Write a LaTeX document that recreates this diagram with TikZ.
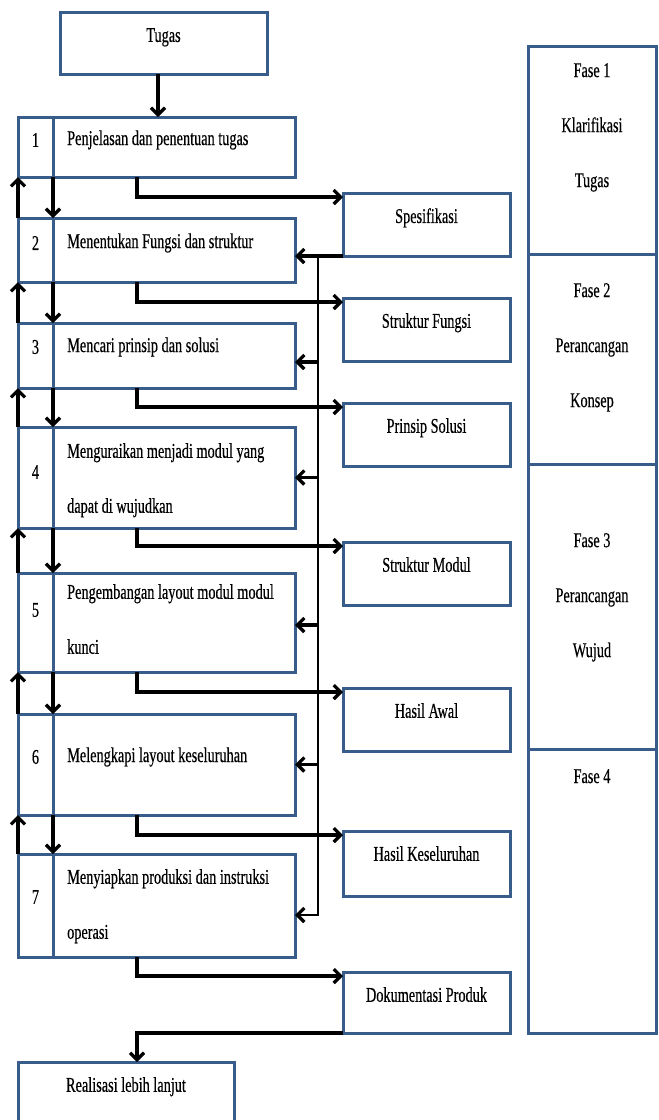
\documentclass[tikz,border=0pt]{standalone}
\usepackage{fontspec}
\setmainfont{Liberation Serif}[FakeStretch=0.68,FakeBold=0.4]
\usetikzlibrary{arrows.meta,positioning,calc}
\definecolor{frame}{HTML}{385D8A}

\tikzset{
  box/.style={draw=frame,line width=3pt,inner sep=0pt,outer sep=0pt},
  txt/.style={inner sep=0pt,font=\fontsize{21}{55}\selectfont},
  flow/.style={line width=3.2pt,-{Straight Barb[length=7pt,width=14pt]}},
  bus/.style={line width=2.4pt},
}

\begin{document}
\begin{tikzpicture}[x=1pt,y=-1pt]
\useasboundingbox (0,0) rectangle (659,1120);

% task
\node[box,minimum width=207pt,minimum height=62pt] (tg) at (163.5,43) {};
\node[txt,below=16pt of tg.north] {Tugas};

% steps
\node[box,minimum width=277pt,minimum height=60pt] (s1) at (156.5,147) {};
\node[box,minimum width=277pt,minimum height=64pt] (s2) at (156.5,250) {};
\node[box,minimum width=277pt,minimum height=65pt] (s3) at (156.5,355.5) {};
\node[box,minimum width=277pt,minimum height=101pt] (s4) at (156.5,477.5) {};
\node[box,minimum width=277pt,minimum height=99pt] (s5) at (156.5,622.5) {};
\node[box,minimum width=277pt,minimum height=101pt] (s6) at (156.5,764.5) {};
\node[box,minimum width=277pt,minimum height=103pt] (s7) at (156.5,905.5) {};
\foreach \s in {s1,s2,s3,s4,s5,s6,s7}
  \draw[draw=frame,line width=3pt] ([xshift=35pt]\s.north west) -- ([xshift=35pt]\s.south west);

\node[txt] (n1) at (35.5,140) {1};
\node[txt] (n2) at (35.5,243) {2};
\node[txt] (n3) at (35.5,347) {3};
\node[txt] (n4) at (35.5,472) {4};
\node[txt] (n5) at (35.5,610) {5};
\node[txt] (n6) at (35.5,757) {6};
\node[txt] (n7) at (35.5,897) {7};

\node[txt,anchor=west] (l1) at (67,140) {Penjelasan dan penentuan tugas};
\node[txt,anchor=west] (l2) at (67,243) {Menentukan Fungsi dan struktur};
\node[txt,anchor=west] (l3) at (67,347) {Mencari prinsip dan solusi};
\node[txt,anchor=north west,align=left] (l4) at (67,443) {Menguraikan menjadi modul yang\\dapat di wujudkan};
\node[txt,anchor=north west,align=left] (l5) at (67,584) {Pengembangan layout modul modul\\kunci};
\node[txt,anchor=west] (l6) at (67,757) {Melengkapi layout keseluruhan};
\node[txt,anchor=north west,align=left] (l7) at (67,869) {Menyiapkan produksi dan instruksi\\operasi};

% results
\node[box,minimum width=167pt,minimum height=63pt] (o1) at (426.5,224.5) {};
\node[box,minimum width=167pt,minimum height=63pt] (o2) at (426.5,329.5) {};
\node[box,minimum width=167pt,minimum height=63pt] (o3) at (426.5,434.5) {};
\node[box,minimum width=167pt,minimum height=63pt] (o4) at (426.5,573.5) {};
\node[box,minimum width=167pt,minimum height=63pt] (o5) at (426.5,719.5) {};
\node[box,minimum width=167pt,minimum height=65pt] (o6) at (426.5,863.5) {};
\node[box,minimum width=167pt,minimum height=61pt] (o7) at (426.5,1002.5) {};
\node[txt,below=15pt of o1.north] {Spesifikasi};
\node[txt,below=15pt of o2.north] {Struktur Fungsi};
\node[txt,below=15pt of o3.north] {Prinsip Solusi};
\node[txt,below=15pt of o4.north] {Struktur Modul};
\node[txt,below=15pt of o5.north] {Hasil Awal};
\node[txt,below=15pt of o6.north] {Hasil Keseluruhan};
\node[txt,below=15pt of o7.north] {Dokumentasi Produk};

\node[box,minimum width=216pt,minimum height=68pt] (r) at (126,1096) {};
\node[txt,below=15pt of r.north] {Realisasi lebih lanjut};

% phases
\node[box,minimum width=128pt,minimum height=208pt] (p1) at (592,150) {};
\node[box,minimum width=128pt,minimum height=210pt] (p2) at (592,359) {};
\node[box,minimum width=128pt,minimum height=285pt] (p3) at (592,606.5) {};
\node[box,minimum width=128pt,minimum height=284pt] (p4) at (592,891) {};
\node[txt,anchor=north,align=center] at (592,63) {Fase 1\\Klarifikasi\\Tugas};
\node[txt,anchor=north,align=center] at (592,283) {Fase 2\\Perancangan\\Konsep};
\node[txt,anchor=north,align=center] at (592,533) {Fase 3\\Perancangan\\Wujud};
\node[txt,anchor=north,align=center] at (592,769) {Fase 4};

% connectors
\coordinate (tin) at ([xshift=-5.5pt]tg.south);
\draw[flow] (tin) -- (tin |- s1.north);

\foreach \a/\b in {s1/s2,s2/s3,s3/s4,s4/s5,s5/s6,s6/s7}{
  \draw[flow] ([xshift=35pt]\a.south west) -- ([xshift=35pt]\b.north west);
  \draw[flow] (\b.north west) -- (\a.south west);
}

\foreach \s/\o in {s1/o1,s2/o2,s3/o3,s4/o4,s5/o5,s6/o6,s7/o7}
  \draw[flow] ([xshift=-19.5pt]\s.south) |- ([yshift=-4pt]\o.north west);

% feedback
\coordinate (fb) at ($(o1.south west)+(-25pt,0)$);
\draw[flow] (o1.south west) -- (s2.east |- o1.south west);
\draw[bus,-{Straight Barb[length=7pt,width=14pt,line width=3.2pt]}] (fb) |- ([yshift=-9.5pt]s7.east);
\foreach \s/\d in {s3/-6.5,s4/0,s5/-2.5,s6/0}
  \draw[flow] ([xshift=23pt,yshift=\d pt]\s.east) -- ([yshift=\d pt]\s.east);

\coordinate (c7) at ([xshift=-19.5pt]s7.south);
\draw[flow] (o7.south west) -| (c7 |- r.north);
\end{tikzpicture}
\end{document}
